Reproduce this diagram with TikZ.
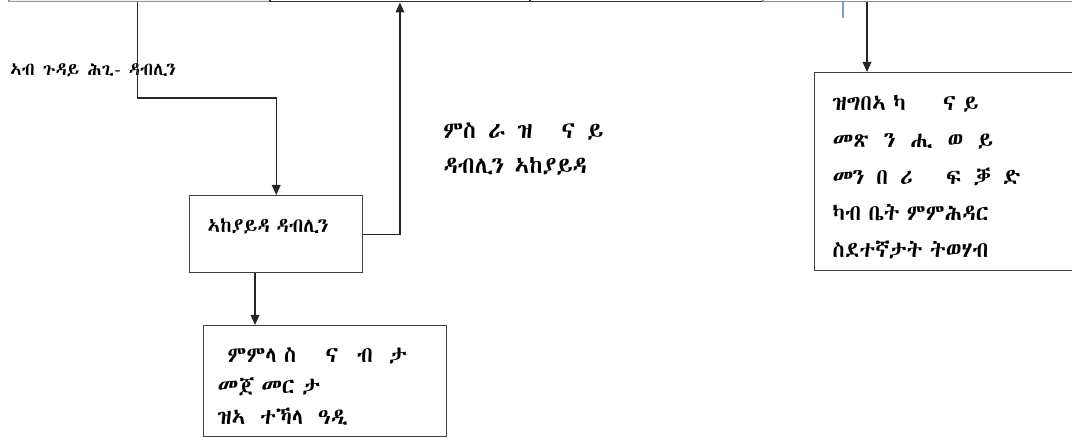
\documentclass[tikz,border=0pt]{standalone}
\usepackage{fontspec}
\usetikzlibrary{arrows.meta}
\IfFontExistsTF{Abyssinica SIL}{\newfontfamily\ethfont{Abyssinica SIL}}{%
  \IfFontExistsTF{FreeSerif}{\newfontfamily\ethfont{FreeSerif}}{%
    \IfFontExistsTF{FreeSans}{\newfontfamily\ethfont{FreeSans}}{\newfontfamily\ethfont{DejaVu Sans}}}}
\definecolor{topblue}{RGB}{130,155,195}
\definecolor{paleblue}{RGB}{238,243,250}
\definecolor{tickblue}{RGB}{120,155,200}

\begin{document}
\begin{tikzpicture}[x=0.75pt, y=-0.75pt,
  topbox/.style={draw=black!80, line width=1.4pt, minimum height=30pt, anchor=south west, inner sep=0pt},
  box/.style={draw=black!75, line width=1.1pt, inner ysep=4pt, align=left, anchor=north west},
  arr/.style={-{Triangle[length=7.5pt,width=6.5pt]}, line width=0.9pt, black!85},
  lbl/.style={inner sep=0pt, align=left, anchor=base west}]
\useasboundingbox (0,0) rectangle (1072,438);
\clip (0,0) rectangle (1072,438);
% boxes cut off at the top
\node[topbox, draw=topblue, fill=paleblue, minimum width=195.75pt] (t1) at (8,2.5) {};
\node[topbox, minimum width=195pt] (t2) at (269,2.5) {};
\node[topbox, minimum width=174.75pt] (t3) at (529,2.5) {};
\node[topbox, draw=black!45, minimum width=240pt] (t4) at (762,2.5) {};
% boxes
\node[box, text width=102.75pt, inner xsep=13.5pt, text height=23.75pt, text depth=26pt,
  font=\ethfont\fontsize{15}{27}\selectfont] (ayd) at (189,195) {ኣከያይዳ ዳብሊን};
\node[box, text width=161.25pt, inner xsep=10.5pt, text height=23.75pt, text depth=51.5pt,
  font=\ethfont\fontsize{16.5}{23.25}\selectfont] (mml) at (203,325)
  {\hspace*{7.5pt}ምምላ ስ\hspace{22pt}ና\hspace{14pt}ብ\hspace{12pt}ታ\\
   መጀ መር ታ\\
   ዝኣ\hspace{11pt}ተኻላ\hspace{11pt}ዓዲ};
\node[box, text width=168.75pt, inner xsep=13.5pt, text height=24.5pt, text depth=116pt,
  font=\ethfont\fontsize{16.5}{27.5}\selectfont] (fqd) at (814,72)
  {ዝግበኣ ካ\hspace{28pt}ና ይ\\
   መጽ\hspace{11pt}ን\hspace{11pt}ሒ\hspace{11pt}ወ\hspace{11pt}ይ\\
   መን\hspace{9pt}በ\hspace{9pt}ሪ\hspace{25pt}ፍ\hspace{9pt}ቓ\hspace{9pt}ድ\\
   ካብ ቤት ምምሕዳር\\
   ስደተኛታት ትወሃብ};
% labels
\node[lbl, font=\ethfont\fontsize{13.5}{12}\selectfont] (lhg) at (10,76) {ኣብ ጉዳይ ሕጊ- ዳብሊን};
\node[lbl, font=\ethfont\fontsize{17.5}{26.25}\selectfont] (lms) at (443,174)
  {ምስ\hspace{9pt}ራ\hspace{9pt}ዝ\hspace{22pt}ና\hspace{9pt}ይ\\ዳብሊን ኣከያይዳ};
% connectors
\coordinate (bend1) at (137.7,98);
\coordinate (dn) at (255,0);
\coordinate (cx) at (867,0);
\coordinate (tk) at (843,0);
\draw[arr] (t1.south -| bend1) -- (bend1) -| (ayd.north);
\draw[arr] (ayd.east) -| (t2.south);
\draw[arr] (ayd.south -| dn) -- (mml.north -| dn);
\draw[arr] (t4.south -| cx) -- (fqd.north -| cx);
\draw[tickblue, line width=2pt] (t4.south -| tk) -- ++(0,16);
\end{tikzpicture}
\end{document}
